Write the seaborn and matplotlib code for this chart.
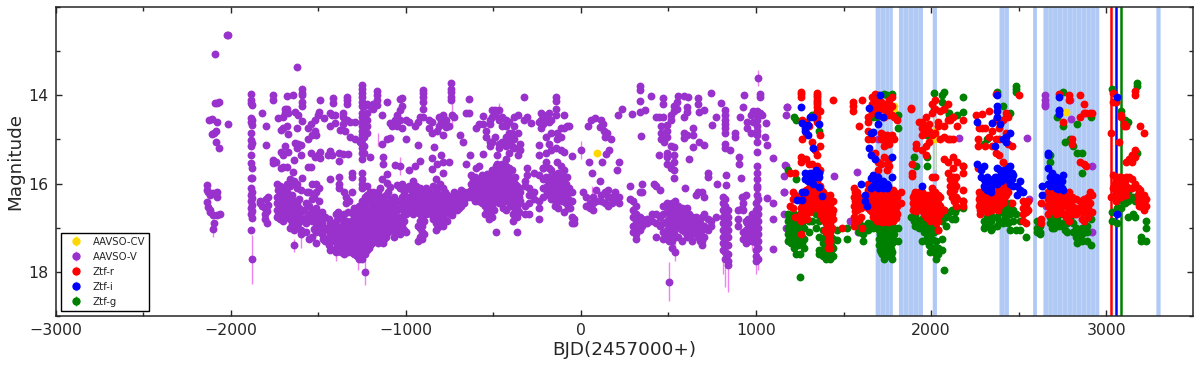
import numpy as np
import pandas as pd
import matplotlib
matplotlib.use('Agg')
import matplotlib.pyplot as plt
from matplotlib.ticker import MultipleLocator
import seaborn as sns

# each row: (BJD-2457000, [magnitudes at that date])
aavso_cv = [(93, [15.3]), (1785, [14.25, 14.35]), (2020, [14.8, 14.9, 15.0]), (2770, [14.38])]

aavso_v_early = [
    (-2023, [12.63]), (-2013, [12.63]), (-2090, [13.06]), (-2090, [14.17]), (-2075, [14.17]), (-2065, [14.16]),
    (-2122, [14.56]), (-2108, [14.54]), (-2075, [14.6]), (-2013, [14.66]), (-2108, [14.87]), (-2095, [14.85]),
    (-2084, [14.8, 15.05]), (-2065, [15.2]), (-2133, [16.04, 16.15, 16.41]), (-2128, [16.2, 16.52]),
    (-2118, [16.25, 16.6, 16.64]), (-2099, [16.22, 16.71]), (-2080, [16.19, 16.31, 16.72]), (-2062, [16.68]),
    (-2095, [16.9]), (-2103, [17.02]),
    (-1883, [13.98, 14.1, 14.18, 14.52, 14.6, 14.85, 15.01, 15.16, 15.35, 15.54, 15.87, 16.1, 16.25, 16.4, 16.55, 16.7, 17.05]),
    (-1876, [14.22, 14.55, 14.67, 15.08, 15.65, 15.87, 16.18, 16.32, 16.48, 16.62, 16.78, 17.72]),
    (-1832, [16.4, 16.45]), (-1820, [14.39, 16.5]), (-1805, [16.55, 16.7, 16.8]), (-1800, [14.69, 15.13, 16.35]),
    (-1790, [16.62, 16.9]), (-1785, [16.3, 16.48]),
]

aavso_v_top_a = [
    (-1756, [14.0, 14.1, 15.47, 15.54]), (-1743, [15.5]), (-1728, [14.52]), (-1710, [14.78, 15.28, 15.65]),
    (-1700, [14.5, 14.75, 15.35, 15.62]), (-1690, [14.3, 14.4, 15.15]), (-1680, [14.02, 14.3, 14.7, 15.62]),
    (-1671, [14.4, 14.88, 15.28]), (-1646, [15.73]), (-1642, [14.0]), (-1638, [15.47]), (-1633, [14.38, 15.09]),
    (-1623, [13.37, 14.73, 15.2]), (-1614, [14.45, 15.1]), (-1600, [15.35, 15.12]), (-1595, [13.85, 13.95, 14.0, 14.15, 14.25]),
    (-1591, [14.58, 15.87]), (-1556, [14.75, 15.0, 15.62]), (-1540, [14.65, 15.62, 15.3]), (-1538, [14.9]),
    (-1520, [14.55, 14.8, 15.4]), (-1510, [14.9]), (-1500, [14.45, 15.35]), (-1494, [14.37]), (-1488, [14.1, 15.28, 15.42]),
    (-1467, [14.52]), (-1442, [15.35]), (-1433, [14.4, 14.7, 15.27, 15.9]), (-1420, [14.45, 15.35]), (-1414, [14.07, 14.18]),
    (-1405, [14.45, 14.63]), (-1380, [15.3, 15.48, 15.84, 16.02, 16.1]), (-1376, [14.78]), (-1357, [14.4, 14.5, 14.65, 15.32]),
    (-1347, [14.82]), (-1338, [14.03, 14.1, 14.2, 14.55]), (-1330, [15.32]), (-1319, [14.6, 14.94]), (-1309, [15.75, 15.85, 16.2]),
    (-1290, [14.6, 15.0]), (-1262, [15.05]),
    (-1252, [13.77, 13.85, 13.95, 14.05, 14.15, 14.25, 14.4, 14.5, 14.6, 14.7, 14.8, 14.9, 15.0, 15.1, 15.2, 15.3, 15.45, 15.77, 15.9, 16.0, 16.1]),
    (-1240, [14.25, 14.45, 14.6, 14.75, 14.95, 15.15, 15.3]), (-1224, [14.2, 14.4, 14.55, 14.7, 14.85, 16.05]),
    (-1205, [14.25, 15.4]), (-1185, [14.2, 14.3, 16.2]), (-1166, [13.9, 14.0, 14.1, 14.22]), (-1138, [14.45, 15.1, 15.9]),
    (-1132, [15.4, 15.55]), (-1110, [14.15, 15.0, 15.98]), (-1106, [15.78]), (-1090, [14.63, 14.97, 16.08]), (-1081, [14.7]),
    (-1062, [15.58, 14.55]), (-1052, [14.45, 14.6, 14.7, 16.03]), (-1033, [14.08, 14.33, 14.55, 15.6]),
]

aavso_v_band_a = [
    (-1735, [16.0, 16.3, 16.45, 16.6, 16.75]), (-1720, [16.05, 16.2, 16.35, 16.5, 16.65, 16.8]),
    (-1700, [16.1, 16.25, 16.4, 16.55, 16.7, 16.85]), (-1680, [16.0, 16.2, 16.35, 16.5, 16.6, 16.75]),
    (-1660, [15.9, 16.05, 16.3, 16.45, 16.6, 16.8, 17.0]), (-1640, [15.95, 16.4, 16.55, 16.7, 16.85, 17.05, 17.4]),
    (-1620, [16.0, 16.1, 16.45, 16.6, 16.75, 16.95]), (-1600, [16.15, 16.65, 16.8, 17.05, 17.15]), (-1580, [16.6, 16.8]),
    (-1565, [16.2, 16.75]), (-1550, [16.2, 16.5, 16.7, 17.25]), (-1535, [16.0, 16.35, 16.6, 16.85, 17.2]),
    (-1510, [16.0, 16.2, 16.55, 16.7, 16.9, 17.1, 17.35]), (-1495, [16.1, 16.4, 16.8, 17.0]), (-1480, [16.65, 16.9, 17.15]),
    (-1460, [16.75, 17.0, 17.3]), (-1440, [16.8, 17.0, 17.2, 17.4]), (-1420, [16.9, 17.1, 17.3]),
    (-1400, [16.7, 16.95, 17.2, 17.45, 17.55]), (-1385, [16.65, 17.0, 17.25]), (-1370, [16.75, 17.05, 17.3, 17.55]),
    (-1355, [16.2, 16.7, 16.9, 17.1, 17.3, 17.6]), (-1340, [16.3, 16.45, 16.85, 17.05, 17.25, 17.45]),
    (-1325, [16.4, 16.95, 17.15, 17.35, 17.5]), (-1310, [16.85, 17.0, 17.2, 17.4, 17.55]),
    (-1295, [16.55, 16.8, 16.95, 17.1, 17.25, 17.4, 17.6]), (-1280, [16.75, 16.9, 17.05, 17.2, 17.35, 17.5, 17.65]),
    (-1265, [16.5, 16.7, 16.85, 17.0, 17.15, 17.3, 17.45, 17.6, 17.7]), (-1250, [16.4, 16.6, 16.8, 16.95, 17.1, 17.25, 17.4, 17.6, 17.72]),
    (-1235, [16.3, 16.45, 16.7, 16.85, 17.0, 17.15, 17.3, 17.45, 17.6, 18.0]), (-1220, [16.25, 16.6, 16.75, 16.9, 17.05, 17.2, 17.35, 17.5]),
    (-1205, [16.2, 16.45, 16.6, 16.8, 16.95, 17.1, 17.25, 17.4]), (-1190, [16.35, 16.55, 16.75, 16.9, 17.05, 17.2, 17.35]),
    (-1175, [16.25, 16.5, 16.65, 16.85, 17.0, 17.15, 17.3]), (-1160, [16.2, 16.4, 16.6, 16.8, 16.95, 17.1, 17.25, 17.35]),
    (-1145, [16.1, 16.35, 16.55, 16.75, 16.9, 17.05, 17.2]), (-1130, [16.3, 16.5, 16.7, 16.85, 17.0, 17.15, 17.35]),
    (-1115, [16.25, 16.45, 16.65, 16.8, 17.0, 17.2]), (-1100, [16.2, 16.5, 16.7, 16.9, 17.1]),
    (-1085, [16.35, 16.6, 16.8, 17.0]), (-1070, [16.3, 16.45, 16.7, 16.9, 17.2]), (-1050, [16.4, 16.6, 16.85, 17.0]),
    (-1035, [16.1, 16.4, 16.55, 16.75, 16.95, 17.15]),
]

aavso_v_top_b = [
    (-1020, [14.07, 14.25, 14.75, 16.0]), (-1000, [14.55, 15.0]), (-980, [14.6, 15.7]), (-950, [14.7, 15.6]), (-930, [14.6, 15.13]),
    (-920, [14.5, 15.48]), (-900, [13.88, 13.95, 14.05, 14.15, 14.3, 14.5]), (-870, [14.55, 14.75]), (-850, [14.6, 14.85, 15.43, 15.66]),
    (-839, [15.17]), (-823, [14.8, 15.55]), (-810, [14.5, 14.7]), (-800, [14.6, 15.36]), (-790, [14.45, 15.77]), (-785, [14.9, 15.5]),
    (-770, [14.55, 14.72]), (-752, [14.7, 15.5]), (-744, [13.73, 13.85, 13.93, 14.05, 14.1]), (-735, [14.45]), (-725, [14.5]),
    (-690, [14.9]), (-673, [15.05]), (-654, [14.4, 15.55]), (-640, [14.08, 14.4]), (-634, [15.35]), (-600, [14.75, 15.65]),
    (-580, [14.65, 15.6]), (-558, [14.48, 14.65, 15.34]), (-540, [14.8, 14.95]), (-520, [14.55, 14.65, 15.05, 15.15]),
    (-506, [14.33, 14.5, 15.05]), (-490, [14.33, 14.45, 14.95]), (-481, [15.35, 15.55]), (-465, [14.33, 14.55, 15.1, 15.2, 15.7]),
    (-450, [14.5, 14.7, 15.05, 15.55, 15.7]), (-430, [14.55, 14.7, 14.95, 15.15, 15.45, 15.6]), (-410, [14.6, 14.85, 15.05, 15.3, 15.65]),
    (-395, [14.85, 15.0, 15.15, 15.7]), (-380, [14.5, 14.7, 15.0, 15.2]), (-360, [14.45, 14.85, 15.35]), (-345, [15.1, 15.25]),
    (-325, [14.03, 14.55]), (-310, [14.5, 15.65, 15.8]), (-285, [14.62]), (-268, [15.77]), (-240, [14.6, 15.13, 15.35, 15.8]),
    (-230, [14.4, 14.55, 14.75]), (-215, [14.45, 14.65, 15.65]), (-198, [14.5, 14.95, 15.3, 15.5, 15.85]), (-180, [14.4, 14.6, 15.1, 15.65]),
    (-173, [14.55, 14.85, 15.25, 15.95]), (-145, [14.03, 14.13, 14.3, 14.45, 15.2]), (-135, [14.85, 15.0, 15.5, 15.95]),
    (-116, [14.75, 14.95, 15.25, 15.6]), (-97, [14.45, 14.75, 15.28, 15.7]), (-80, [14.7, 15.85]), (-68, [14.7, 16.1]), (-49, [15.38, 16.2]),
]

aavso_v_band_b = [
    (-1020, [16.3, 16.55, 16.75, 16.95]), (-1000, [16.1, 16.35, 16.5, 16.7, 17.1]), (-980, [16.05, 16.3, 16.45, 16.65]),
    (-960, [15.95, 16.2, 16.4, 16.55, 16.7]), (-940, [16.05, 16.25, 16.4, 16.6]), (-920, [16.1, 16.3, 16.5, 16.7, 16.85, 17.0, 17.2]),
    (-905, [16.15, 16.35, 16.55, 16.75, 16.95, 17.1, 17.25]), (-885, [16.1, 16.35, 16.55, 16.7]), (-865, [16.2, 16.4, 16.6]),
    (-845, [16.05, 16.25, 16.4, 16.6, 16.8]), (-825, [15.9, 16.15, 16.35, 16.55, 16.7, 16.9, 17.05]), (-805, [16.0, 16.25, 16.45, 16.65, 16.85]),
    (-785, [16.1, 16.35, 16.55, 16.75, 16.95]), (-765, [16.25, 16.45, 16.65, 16.85]), (-745, [16.3, 16.5, 16.7]),
    (-725, [16.2, 16.45, 16.6]), (-705, [16.3, 16.45, 16.6]), (-685, [16.15, 16.3, 16.5]), (-665, [16.2, 16.35, 16.45]),
    (-645, [16.2, 16.3]), (-625, [15.8, 16.0, 16.15, 16.3]), (-605, [15.85, 16.0, 16.15, 16.3, 16.4]), (-585, [15.95, 16.1, 16.25, 16.4]),
    (-565, [15.8, 16.0, 16.15, 16.3, 16.45]), (-545, [15.9, 16.05, 16.2, 16.35, 16.5, 16.7]), (-525, [15.85, 16.0, 16.15, 16.35, 16.55, 16.65, 16.8]),
    (-505, [15.7, 15.85, 16.0, 16.15, 16.3, 16.5, 16.75]), (-485, [15.6, 15.8, 15.95, 16.1, 16.25, 16.4, 17.1]), (-465, [15.9, 16.0, 16.15, 16.3, 16.45]),
    (-445, [15.75, 15.9, 16.05, 16.2, 16.35, 16.55]), (-425, [15.8, 15.95, 16.1, 16.25, 16.4, 16.6]), (-405, [15.85, 16.0, 16.15, 16.3, 16.5]),
    (-385, [15.95, 16.1, 16.25, 16.45, 16.7, 16.85]), (-365, [16.05, 16.2, 16.35, 16.55, 16.75, 17.1]), (-345, [16.2, 16.4]),
    (-320, [15.95, 16.05, 16.5, 16.7]), (-295, [16.1, 16.25, 16.45, 16.7]), (-265, [16.2, 16.35]), (-240, [16.4, 16.55, 16.8]),
    (-215, [15.65, 15.9, 16.1, 16.3]), (-195, [15.9, 16.05, 16.2]), (-170, [15.7, 15.95, 16.15, 16.35]), (-150, [15.8, 16.0, 16.25, 16.5]),
    (-130, [15.75, 15.95, 16.15, 16.35, 16.55]), (-110, [16.0, 16.2, 16.4]), (-95, [15.85, 16.1, 16.3, 16.65]), (-75, [16.15, 16.35, 16.55]),
    (-50, [16.4, 16.75, 16.9]), (-40, [16.8, 16.9]),
]

aavso_v_top_c = [
    (0, [15.24]), (13, [16.18]), (42, [14.7]), (45, [15.5]), (55, [14.55]), (65, [15.75]), (80, [14.52]), (107, [15.95]),
    (110, [14.72]), (112, [14.55]), (122, [15.5]), (125, [14.65]), (130, [14.8]), (135, [14.95]), (146, [15.32]), (150, [14.85]),
    (160, [15.24]), (170, [15.0]), (207, [15.7]), (213, [14.45]), (217, [15.52]), (236, [14.3]), (289, [14.42]), (337, [13.78, 13.87]),
    (335, [14.13, 14.37]), (344, [14.92]), (365, [14.33]), (401, [14.02]), (426, [14.5]), (445, [15.35, 14.5]), (455, [14.7, 14.85, 15.0]),
    (470, [14.07, 14.2, 14.5]), (474, [15.05]), (493, [14.67, 14.8, 14.95, 15.3, 15.4, 15.55]), (512, [14.45, 14.55, 15.15, 15.65]),
    (531, [14.25, 14.35, 15.17, 15.35, 15.5, 15.7, 15.88]), (550, [14.15, 14.3]), (554, [14.02]), (588, [14.02, 14.5, 14.85, 14.97]),
    (607, [14.27, 14.37, 14.9]), (611, [14.03]), (617, [15.45]), (641, [14.75, 14.9, 15.17]), (668, [14.07, 14.2]), (674, [14.37, 15.05]),
    (703, [14.33, 15.13]), (725, [15.75, 15.85]), (740, [13.94]), (750, [14.68]), (769, [14.5]), (775, [16.0]), (801, [14.18]),
    (820, [14.33, 14.45, 14.55, 14.65, 14.75, 14.85, 15.1, 15.2]), (826, [15.8, 16.03]), (851, [15.25]), (880, [14.85, 14.95]),
    (902, [15.4, 15.55]), (911, [14.5]), (912, [15.87]), (925, [14.27]), (930, [14.0]), (950, [14.6, 14.75]), (970, [14.45, 14.85]),
    (985, [14.35, 14.6]), (1003, [14.35, 14.45, 14.55, 14.7, 14.8, 14.9, 15.05, 15.28, 15.77, 15.9, 16.05]), (1012, [13.6]), (1020, [13.97, 14.05, 14.4]),
    (1035, [14.45]), (1054, [14.95]), (1055, [14.63]), (1064, [15.13]), (1098, [15.43, 16.43, 16.8, 17.48]), (1060, [16.32]),
    (1159, [16.18]), (1172, [15.6]), (1178, [14.27]),
]

aavso_v_band_c = [
    (30, [16.3, 16.5]), (50, [16.45, 16.55]), (70, [16.3, 16.45, 16.6]), (85, [16.15, 16.4]), (115, [16.25, 16.4]), (135, [16.2, 16.45]),
    (155, [16.15, 16.3, 16.5]), (175, [16.3, 16.45]), (195, [16.2, 16.35]), (215, [16.3, 16.45]), (280, [16.05, 16.35]),
    (300, [16.4, 16.6, 16.75, 16.95, 17.1]), (315, [16.5, 16.7, 16.85, 17.0, 17.15, 17.25]), (335, [16.2, 16.75, 16.85, 17.05]),
    (350, [16.0, 16.2, 16.8, 16.95]), (375, [16.8, 16.9]), (405, [16.7, 16.85]), (415, [16.0]), (430, [16.05, 16.7, 16.9, 17.2]), (450, [16.15, 16.75, 16.95]),
    (470, [16.5, 16.7, 16.9, 17.1, 17.25]), (490, [16.45, 16.65, 16.85, 17.05, 17.2]), (505, [16.5, 16.65, 16.8, 16.95, 17.15, 17.3, 18.22]),
    (520, [16.45, 16.6, 16.8, 17.0, 17.3, 17.45]), (540, [16.4, 16.6, 16.8, 17.0, 17.2, 17.55]), (555, [16.5, 16.7, 16.9, 17.2]),
    (575, [16.55, 16.7, 16.85, 17.05, 17.3]), (595, [16.1, 16.6, 16.75, 16.95, 17.1]), (615, [16.7, 16.85, 17.05]), (635, [16.75, 16.95, 17.15, 17.3]),
    (655, [16.25, 16.75, 16.9, 17.1]), (670, [16.2, 16.8, 17.0, 17.2]), (690, [16.2, 16.75, 17.05, 17.3, 17.4]), (705, [16.3, 16.7, 16.95, 17.2]),
    (725, [16.8, 17.05]), (745, [16.85, 16.95]), (770, [16.75]),
    (810, [16.3, 16.45, 16.6, 16.75, 16.9, 17.05, 17.2, 17.35, 17.5]), (825, [16.35, 16.5, 16.65, 16.8, 16.95, 17.1, 17.25, 17.4, 17.55, 17.7]),
    (838, [16.6, 16.75, 16.9, 17.05, 17.2, 17.4, 17.6, 17.75, 17.85]), (895, [16.6, 16.8, 16.95]), (925, [16.3, 16.45, 16.6, 17.1, 17.25]),
    (940, [16.25, 16.85, 17.05, 17.2, 17.35]), (955, [16.8, 17.0, 17.15, 17.3]), (975, [16.7, 16.9, 17.05, 17.3]), (985, [16.8, 17.0, 17.2]),
    (1000, [16.45, 16.6, 16.75, 16.9, 17.05, 17.2, 17.35, 17.5, 17.65, 17.75]), (1012, [16.35, 16.55, 16.7, 16.85, 17.0, 17.15, 17.3, 17.45, 17.7]),
]

# points between the columns above, where the band looks denser
aavso_v_fill = [
    (-1728, [16.15, 16.42, 16.72]), (-1690, [16.18, 16.32, 16.62, 16.78]), (-1650, [16.25, 16.52, 16.72, 16.92]), (-1610, [16.35, 16.55, 16.88]),
    (-1570, [16.45, 16.9, 17.1]), (-1522, [16.3, 16.62, 16.8, 17.02]), (-1470, [16.75, 17.08, 17.25]), (-1430, [16.9, 17.12, 17.3, 17.5]),
    (-1392, [16.82, 17.1, 17.35]), (-1362, [16.95, 17.18, 17.42]), (-1332, [16.65, 17.0, 17.28, 17.55]), (-1302, [16.7, 17.05, 17.32, 17.5]),
    (-1272, [16.6, 16.8, 17.12, 17.42]), (-1242, [16.52, 16.72, 17.02, 17.32, 17.52]), (-1212, [16.42, 16.68, 17.0, 17.28, 17.45]),
    (-1182, [16.45, 16.82, 17.1, 17.28]), (-1152, [16.3, 16.72, 17.02, 17.3]), (-1122, [16.4, 16.6, 16.95, 17.25]), (-1092, [16.45, 16.75, 16.95]),
    (-1060, [16.55, 16.75, 17.1]), (-1010, [16.2, 16.45, 16.65, 16.85, 17.05]), (-970, [16.15, 16.38, 16.58]), (-930, [16.18, 16.45, 16.65, 16.95, 17.3]),
    (-895, [16.25, 16.45, 16.65, 16.85, 17.15]), (-855, [16.3, 16.5, 16.7]), (-815, [16.1, 16.3, 16.5, 16.78, 16.98]), (-775, [16.2, 16.42, 16.62, 16.82]),
    (-735, [16.38, 16.55, 16.72]), (-695, [16.25, 16.4, 16.55]), (-615, [15.9, 16.08, 16.25]), (-575, [15.9, 16.05, 16.18, 16.35]),
    (-535, [15.78, 15.95, 16.1, 16.28, 16.45, 16.6]), (-495, [15.9, 16.08, 16.22, 16.38, 16.6]), (-455, [15.82, 15.98, 16.12, 16.28, 16.42]),
    (-415, [15.72, 15.9, 16.08, 16.22, 16.38]), (-375, [15.85, 16.02, 16.18, 16.32, 16.6]), (-355, [16.1, 16.3, 16.45, 16.65]),
    (-180, [15.85, 16.05, 16.25]), (-140, [16.1, 16.3, 16.45]), (-120, [15.85, 16.1, 16.3]), (-85, [16.0, 16.25, 16.45]), (-60, [16.2, 16.4, 16.55]),
    (510, [16.7, 16.9, 17.1, 17.2]), (530, [16.5, 16.7, 16.9, 17.1]), (565, [16.6, 16.8, 17.0]), (605, [16.55, 16.8, 17.0, 17.2]),
    (645, [16.85, 17.05]), (680, [16.9, 17.1, 17.3]), (1005, [15.6, 16.1, 16.25]), (950, [16.9, 17.1]), (918, [16.3, 16.55]),
]

# violet points inside the ZTF seasons
aavso_v_late = [
    (1176, [14.27]), (1172, [14.45]), (1166, [15.58]), (1157, [15.82, 16.2, 16.7]), (1170, [17.0]), (1446, [15.82]), (1538, [16.85]), (1576, [15.73]),
    (1585, [17.1]), (1696, [15.0]), (2160, [14.97]), (2550, [14.97]), (2556, [16.35]), (2651, [14.0, 14.1, 14.2, 14.25]), (2656, [16.5]),
    (2793, [14.1]), (2800, [14.53]), (2921, [15.6, 17.1]),
]

ztf_g = [
    (1180, [15.7, 16.7, 16.85, 17.0, 17.15, 17.3]), (1200, [16.75, 16.9, 17.05, 17.2, 17.35]), (1215, [14.5, 16.7, 16.95, 17.25, 17.45]),
    (1230, [14.55, 15.9, 16.9, 17.1, 17.3, 17.6]), (1250, [16.7, 16.9, 17.1, 17.3, 17.6, 18.12]), (1275, [16.8, 17.0, 17.25, 17.45]), (1300, [16.6, 16.85, 17.1]),
    (1320, [14.45, 16.6, 16.85]), (1340, [14.5, 16.45, 16.7, 17.0]), (1360, [14.8, 16.5, 16.85, 17.2, 17.5, 17.6]), (1385, [17.05, 17.35, 17.5, 17.65]),
    (1400, [16.9, 17.2, 17.4, 17.6, 17.7]), (1420, [16.95, 17.3, 17.55, 17.7]), (1440, [17.25, 17.45, 17.65]), (1465, [17.28, 17.05]),
    (1520, [17.0, 17.25]), (1590, [16.85, 17.0, 17.1]), (1610, [16.95, 17.15, 17.3]), (1640, [16.9, 17.05]), (1665, [14.5, 17.0, 16.9]),
    (1690, [14.5, 16.85, 17.0]), (1710, [17.0, 17.15, 17.35, 17.5]), (1720, [15.0, 16.95, 17.1, 17.25, 17.45, 17.6]), (1730, [13.98, 16.95, 17.1, 17.3, 17.5, 17.7]),
    (1745, [14.0, 15.1, 17.0, 17.15, 17.35, 17.55, 17.65]), (1760, [14.3, 16.95, 17.1, 17.25, 17.4, 17.55]), (1775, [13.98, 16.9, 17.05, 17.2, 17.35, 17.55, 17.7]),
    (1790, [17.0, 17.15, 17.3]), (1810, [14.45, 14.75, 17.0, 17.3]),
    (1885, [16.75]), (1900, [15.4, 16.75, 16.85]), (1915, [15.6, 16.8, 16.9]), (1930, [16.85, 17.0]), (1950, [16.8, 17.0, 17.3]),
    (1975, [14.8, 14.9, 15.4, 15.6, 16.9, 17.2, 17.3]), (1995, [17.0, 17.15, 17.3, 17.55]), (2015, [13.95, 14.3, 16.85, 17.1, 17.45]), (2030, [17.0, 17.3, 17.6, 17.7]),
    (2060, [14.0, 14.15, 16.85, 17.25, 17.5]), (2075, [13.93, 14.3, 16.6, 17.95]), (2100, [14.4, 14.45, 16.65]), (2120, [16.6, 16.8]), (2150, [14.45, 16.55]),
    (2180, [14.05, 14.37, 15.6, 16.4, 16.55]),
    (2300, [15.1, 16.85, 17.0]), (2320, [15.0, 16.75, 16.9]), (2340, [16.85, 17.05]), (2375, [13.92, 16.75, 16.95]), (2410, [14.25, 16.65, 16.9]), (2430, [14.5, 16.55, 16.8]),
    (2450, [14.4, 16.45, 16.7, 17.05]), (2485, [13.78, 13.85, 13.93, 16.7, 17.05]), (2505, [16.85, 17.05]), (2540, [17.2]),
    (2605, [16.85, 17.0, 17.1]), (2620, [16.95, 17.1, 17.15]), (2680, [15.35, 15.5, 16.75, 16.9]), (2700, [16.6, 16.85, 17.0]), (2720, [14.5, 16.55, 16.8, 16.9]),
    (2750, [13.93, 14.7, 16.9, 16.95]), (2765, [15.05, 16.7, 17.05]), (2790, [15.0, 16.8]), (2810, [15.15, 16.9, 17.1]), (2835, [14.65, 15.3, 17.2, 17.35]),
    (2860, [15.3, 15.75, 17.0, 17.15, 17.3]), (2890, [16.95, 17.1, 17.3]), (2915, [14.5, 17.4, 16.8]),
    (3035, [13.85, 16.65, 16.85]), (3060, [16.4, 16.55, 16.9]), (3085, [14.35, 16.3, 16.55]), (3105, [14.55, 16.25, 16.45]), (3125, [14.6, 16.2, 16.4, 16.75]),
    (3150, [16.3, 16.7]), (3165, [15.35, 16.4, 16.75]), (3178, [13.72, 13.8, 15.3]), (3200, [16.4, 17.2, 17.3]), (3225, [16.85, 17.0, 17.3]),
]

ztf_g_fill = [
    (1190, [16.8, 17.1, 17.25]), (1240, [16.85, 17.0, 17.2, 17.4]), (1262, [16.9, 17.2, 17.35]), (1392, [17.2, 17.45, 17.62]), (1410, [17.1, 17.3, 17.5, 17.65]),
    (1430, [17.2, 17.4, 17.6]), (1702, [17.05, 17.25, 17.4]), (1715, [17.05, 17.2, 17.35, 17.55]), (1725, [17.05, 17.2, 17.38, 17.58]), (1738, [17.05, 17.22, 17.42, 17.6]),
    (1752, [17.05, 17.22, 17.45, 17.62]), (1768, [17.02, 17.18, 17.32, 17.48, 17.62]), (1782, [17.0, 17.15, 17.3]), (1910, [16.7, 16.95]), (1960, [16.85, 17.1]),
    (1985, [16.95, 17.1, 17.4]), (2005, [17.05, 17.25]), (2040, [17.05, 17.45, 17.6]), (2085, [16.75, 16.95]), (2135, [16.65, 16.8]),
    (2310, [16.95, 16.85]), (2350, [16.75, 17.0]), (2385, [16.65, 16.85]), (2420, [16.6, 16.75]), (2440, [16.55, 16.7, 16.9]), (2470, [16.6, 16.85]),
    (2690, [16.8, 17.0]), (2730, [16.7, 16.95]), (2775, [16.9, 17.1]), (2825, [17.0, 17.2]), (2850, [17.1, 17.25]),
]

ztf_r = [
    (1195, [15.75, 16.5]), (1210, [16.2, 16.35, 16.55]), (1225, [15.75, 16.25, 16.75]), (1254, [13.93, 13.98, 14.03, 15.4, 15.5, 16.55, 16.7, 16.85, 17.15]),
    (1260, [14.55, 15.0, 16.3, 16.5, 16.65, 16.8]), (1285, [14.6, 14.85, 15.45, 16.15, 16.3, 16.5, 16.7]), (1300, [14.7, 15.55, 16.1, 16.25, 16.4, 16.55]),
    (1320, [15.05, 15.55, 15.75, 16.05, 16.2, 16.35, 16.5]), (1335, [15.25, 15.9, 16.0, 16.2, 16.35, 16.5]),
    (1350, [13.95, 14.0, 14.05, 14.1, 14.15, 14.2, 14.27, 14.35, 14.4, 14.5, 14.6, 15.35, 15.6, 15.95, 16.1, 16.3, 16.45]),
    (1365, [14.35, 14.9, 15.15, 15.7, 16.05, 16.25, 16.6]), (1380, [16.2, 16.4, 16.6, 16.8]), (1395, [16.25, 16.45, 16.65, 16.85, 17.05]),
    (1410, [16.3, 16.55, 16.75, 16.95, 17.15, 17.3, 17.45]), (1442, [14.1, 16.4, 16.6, 16.8]), (1425, [16.25, 16.5, 16.7, 16.9, 17.1, 17.3, 17.45]), (1435, [16.7, 17.0]),
    (1490, [17.0]), (1555, [14.15, 14.25, 14.35]), (1560, [16.1, 16.3, 16.5, 16.75, 16.95]), (1575, [16.2, 16.4, 16.6, 16.85]), (1590, [14.7, 16.3, 16.5, 16.8]),
    (1600, [16.35, 16.55, 16.75]), (1605, [14.1, 16.5, 17.0]), (1640, [14.5, 14.6, 14.8, 15.0, 16.0, 16.15, 16.35, 16.55]),
    (1660, [14.05, 14.2, 14.4, 15.0, 16.2, 16.35, 16.5, 16.65]), (1680, [13.97, 14.1, 14.3, 15.3, 16.25, 16.45, 16.6, 16.75]),
    (1695, [14.0, 14.2, 15.5, 15.7, 16.1, 16.3, 16.5, 16.7]), (1715, [14.15, 14.3, 14.85, 15.0, 15.55, 16.15, 16.3, 16.5, 16.7]),
    (1730, [14.3, 14.5, 14.9, 15.15, 15.4, 16.2, 16.4, 16.6, 16.8]), (1745, [14.2, 14.35, 14.9, 15.05, 15.55, 15.7, 16.2, 16.4, 16.6, 16.8]),
    (1760, [14.1, 14.3, 14.45, 14.95, 15.1, 15.45, 15.6, 16.15, 16.35, 16.55, 16.75]), (1775, [14.05, 14.25, 14.45, 14.9, 16.25, 16.45, 16.65]),
    (1790, [14.5, 15.0, 16.2, 16.4, 16.6, 16.8]), (1805, [14.55, 16.3, 16.5, 16.7]), (1830, [16.2, 16.45]), (1885, [14.3, 14.28]),
    (1895, [16.3, 16.45, 16.6]), (1890, [15.55, 15.83, 15.75]), (1905, [16.2, 16.4, 16.55]), (1915, [15.1, 15.2]), (1930, [14.6, 16.2, 16.35, 16.55]),
    (1950, [14.6, 14.75, 14.9, 15.25, 16.2, 16.4, 16.6]), (1970, [14.5, 14.7, 14.85, 15.15, 15.35, 16.25, 16.4, 16.6, 16.75]),
    (1985, [14.65, 14.8, 15.05, 16.25, 16.45, 16.65, 16.8]), (2005, [14.2, 14.4, 14.9, 15.85, 16.1, 16.3, 16.45, 16.65]),
    (2020, [14.1, 14.3, 14.85, 15.85, 16.2, 16.4, 16.6, 16.8]), (2040, [14.6, 14.7, 16.25, 16.45, 16.65, 16.85, 17.05]), (2050, [14.35, 15.0, 16.3, 16.5, 16.7]),
    (2075, [14.3, 14.7, 15.45, 14.95, 16.6]), (2095, [14.2, 14.55, 15.0, 15.5, 15.75]), (2110, [14.55, 15.0, 15.9, 16.05, 16.2]), (2125, [14.5, 15.0, 15.4, 15.65, 15.85, 16.1]),
    (2140, [15.85, 16.05, 16.3, 16.5]), (2150, [14.7, 15.5, 16.35]), (2180, [14.55, 15.6, 15.75, 16.15, 16.4, 16.5]),
    (2255, [14.45]), (2265, [15.65, 15.0, 15.15]), (2275, [14.75, 16.2, 16.35, 16.5]), (2290, [14.42, 14.75, 16.2, 16.35, 16.55]), (2310, [14.75, 15.15, 16.25, 16.45, 16.55]),
    (2330, [14.35, 14.95, 16.3, 16.5, 16.6]), (2350, [14.8, 15.15, 16.25, 16.45, 16.6]), (2370, [13.98, 14.55, 15.0, 15.3, 16.2, 16.4, 16.55]),
    (2390, [14.75, 15.0, 15.35, 16.15, 16.35, 16.5]), (2410, [14.55, 15.5, 16.1, 16.3, 16.45]), (2425, [14.4, 14.85, 15.6, 16.05, 16.25]), (2440, [14.5, 15.1, 16.05, 16.2]),
    (2460, [15.15, 16.45]), (2500, [14.0]), (2525, [16.4, 16.55, 16.7, 16.85]), (2540, [16.5, 16.65, 16.9]), (2555, [16.4, 16.6]),
    (2625, [16.45, 16.8, 16.9]), (2665, [16.2, 16.35, 16.5, 16.7]), (2690, [16.1, 16.3, 16.45, 16.6]), (2710, [16.15, 16.35, 16.55, 16.7]), (2730, [13.97, 14.35, 16.2, 16.4, 16.6]),
    (2750, [14.6, 16.25, 16.45, 16.7]), (2770, [16.3, 16.5, 16.75]), (2785, [14.0, 14.1, 16.2, 16.4, 16.6, 16.85]), (2805, [15.1, 15.0, 16.3, 16.5, 16.65]),
    (2825, [16.35, 16.55, 16.7]), (2850, [14.0, 14.5, 15.5, 16.4, 16.55]), (2870, [14.2, 14.4, 15.55, 16.35, 16.6, 16.85]), (2885, [14.4, 15.6, 16.45, 16.65]),
    (2905, [14.4, 16.45, 16.65, 16.2]), (2920, [14.4, 16.25, 16.65]),
    (3025, [14.85, 16.3]), (3040, [13.95, 14.15, 15.8, 16.1]), (3055, [14.15, 15.95, 16.15, 16.4]), (3070, [15.05, 15.85, 16.05, 16.3]), (3085, [14.45, 14.5, 15.85, 16.1, 16.3]),
    (3100, [14.65, 14.7, 15.9, 16.15]), (3115, [14.7, 15.5, 15.85, 16.05, 16.25]), (3130, [15.45, 15.85, 16.1]), (3145, [15.35, 15.5, 15.9, 16.1]), (3165, [13.9, 14.0, 15.25, 15.4, 16.0]),
    (3180, [16.1, 16.25, 16.4]), (3190, [14.7, 16.15, 16.35, 16.5]), (3215, [14.85, 16.25, 16.4, 16.6]), (3225, [16.35, 16.5]),
]

ztf_r_fill = [
    (1270, [16.2, 16.42, 16.6, 16.78]), (1292, [16.25, 16.45, 16.62, 16.8]), (1310, [16.15, 16.32, 16.48, 16.65]), (1345, [16.0, 16.18, 16.38, 16.55]),
    (1372, [16.15, 16.35, 16.5, 16.72]), (1402, [16.3, 16.5, 16.7, 16.9, 17.1]), (1418, [16.4, 16.62, 16.82, 17.02, 17.2]), (1565, [16.2, 16.4, 16.62, 16.85]),
    (1650, [16.1, 16.25, 16.42, 16.6]), (1670, [16.15, 16.3, 16.48, 16.62, 16.75]), (1688, [16.2, 16.38, 16.55, 16.72, 16.85]), (1703, [16.2, 16.38, 16.58, 16.78]),
    (1722, [16.1, 16.25, 16.42, 16.6, 16.78, 16.88]), (1738, [16.15, 16.32, 16.5, 16.68, 16.85]), (1752, [16.12, 16.3, 16.5, 16.7, 16.88]),
    (1768, [16.2, 16.4, 16.58, 16.8]), (1782, [16.15, 16.32, 16.52, 16.72, 16.85]), (1798, [16.3, 16.48, 16.65, 16.78]), (1900, [16.25, 16.38, 16.52]),
    (1912, [16.3, 16.48, 16.62]), (1940, [16.25, 16.45, 16.6]), (1960, [16.3, 16.5, 16.68]), (1978, [16.3, 16.5, 16.7]), (1995, [16.3, 16.5, 16.7, 16.85]),
    (2012, [16.2, 16.38, 16.55, 16.72]), (2030, [16.3, 16.5, 16.7, 16.9]), (2118, [15.95, 16.12, 16.3]), (2132, [15.95, 16.15, 16.4]),
    (2280, [16.28, 16.45, 16.6, 16.7]), (2300, [16.25, 16.42, 16.58]), (2320, [16.35, 16.52, 16.65]), (2340, [16.35, 16.55]), (2360, [16.3, 16.5]),
    (2380, [16.25, 16.45, 16.6]), (2400, [16.2, 16.4]), (2418, [16.15, 16.35]), (2680, [16.2, 16.4, 16.55]), (2700, [16.2, 16.38, 16.55]), (2720, [16.25, 16.45, 16.6]),
    (2740, [16.3, 16.5, 16.65]), (2795, [16.3, 16.5, 16.7]), (2815, [16.35, 16.55, 16.7]), (2860, [16.45, 16.65, 16.8]), (2895, [16.3, 16.55, 16.75]),
    (3050, [16.0, 16.25]), (3078, [15.95, 16.15]), (3092, [15.95, 16.2]), (3108, [15.95, 16.15]), (3185, [16.2, 16.35, 16.5]), (3205, [16.3, 16.5]),
]

ztf_i = [
    (1255, [14.27]), (1260, [14.62]), (1235, [16.38]), (1265, [16.2, 16.38]), (1280, [14.73, 14.82, 16.2, 15.75, 15.9]), (1295, [14.67, 14.9, 15.8, 15.95]),
    (1310, [14.5, 15.75, 15.9]), (1325, [14.5, 15.2, 16.0, 15.8]), (1340, [15.7, 15.85]), (1360, [14.65, 15.75, 15.85, 16.07]), (1375, [16.28]),
    (1600, [16.0]), (1620, [16.27, 16.4]), (1635, [16.5]), (1645, [14.28, 15.2]), (1655, [14.85, 15.35, 15.87, 16.1]), (1665, [14.83, 15.8, 16.05]),
    (1680, [15.45, 15.9, 16.05, 16.0]), (1695, [14.45, 14.65, 15.85, 16.1]), (1710, [14.0, 15.95, 16.05]), (1725, [14.5, 16.1, 15.95]), (1745, [16.0, 16.1]),
    (1775, [15.4, 15.85]), (1755, [16.05]),
    (1950, [16.05]), (2260, [14.6, 15.55]), (2285, [15.85, 15.7]), (2300, [15.9, 16.05, 15.6]), (2320, [15.85, 16.05, 16.15]), (2340, [15.95, 16.1, 16.2]),
    (2350, [14.63]), (2365, [15.15, 15.85, 16.0]), (2375, [14.0, 14.25, 14.35, 14.5, 15.65, 15.85, 16.0]), (2395, [14.65, 15.7, 15.9]), (2410, [15.0, 15.85, 15.75]),
    (2430, [15.05, 14.95, 15.75, 15.9]), (2450, [14.85, 15.8, 15.6, 16.0]), (2470, [15.8, 16.05]), (2490, [16.05, 16.25]), (2510, [15.95, 16.15]), (2525, [16.2]),
    (2630, [16.25, 16.05]), (2665, [15.35, 15.3, 15.65, 16.0]), (2690, [15.75, 16.0, 15.9]), (2715, [15.85, 16.05, 16.1]), (2730, [14.05, 14.33, 14.42, 15.9, 16.05]),
    (2745, [15.95, 16.1]), (2755, [16.15, 15.8]), (3060, [16.7, 14.03]),
    (2310, [15.95, 16.1]), (2330, [15.9, 16.0]), (2400, [15.8, 15.95]), (2420, [15.7, 15.85]), (2440, [15.65, 15.85]), (2460, [15.75, 15.9]),
    (2680, [15.85, 16.05]), (2700, [15.85, 16.05]), (2722, [15.95, 16.12]), (2738, [15.9, 16.1]), (1690, [15.95, 16.05]), (1735, [16.0]),
]

# points in violet with the long error bars that are visible: (date, magnitude, error)
aavso_v_err = [
    (-1880, 17.72, 0.55), (-2103, 17.02, 0.2), (-1640, 17.4, 0.15), (-1235, 18.0, 0.3), (-1600, 17.15, 0.3), (-1400, 17.55, 0.2), (-1270, 17.7, 0.25),
    (505, 18.22, 0.45), (1012, 13.6, 0.18), (810, 17.5, 0.55), (825, 17.7, 0.65), (838, 17.85, 0.6), (1000, 17.75, 0.3), (1012, 17.7, 0.25),
    (305, 17.1, 0.2), (540, 17.55, 0.2), (975, 17.3, 0.2), (-1033, 15.6, 0.2), (-1160, 15.0, 0.15), (-465, 14.33, 0.15), (0, 15.24, 0.2), (65, 16.3, 0.25), (-735, 14.45, 0.3),
]
aavso_cv_err = [(2020, 15.1, 0.6)]

# TESS sector windows, start and end
span_start = [1683, 1710, 1738, 1764, 1816, 1842, 1870, 1898, 1926, 2009, 2390, 2417, 2582,
              2641, 2668, 2696, 2724, 2751, 2778, 2805, 2832, 2859, 2886, 2913, 2941, 3286]
span_end = [1709, 1737, 1763, 1781, 1841, 1869, 1897, 1925, 1953, 2033, 2416, 2444, 2604,
            2667, 2695, 2723, 2750, 2777, 2804, 2831, 2858, 2885, 2912, 2940, 2960, 3310]
line_x = [3024, 3056, 3083]
line_colors = ['red', 'blue', 'green']

yticks_major = [14, 16, 18]


def to_frame(*groups):
    rows = [(x, y) for group in groups for x, ys in group for y in ys]
    return pd.DataFrame(rows, columns=['bjd', 'mag'])


sns.set_style('ticks')
plt.rcParams['font.family'] = 'DejaVu Sans'
plt.rcParams['xtick.direction'] = 'in'
plt.rcParams['ytick.direction'] = 'in'

fig = plt.figure(figsize=(12, 3.67), dpi=100)
ax = fig.add_axes([55.5 / 1200, 1 - 316 / 367, (1193 - 55.5) / 1200, 309 / 367])

for s, e in zip(span_start, span_end):
    ax.axvspan(s, e, color='cornflowerblue', alpha=0.5, lw=0, zorder=1, snap=False)
for x, c in zip(line_x, line_colors):
    ax.axvline(x, color=c, lw=1.8, zorder=2)

df_v = to_frame(aavso_v_early, aavso_v_top_a, aavso_v_band_a, aavso_v_top_b, aavso_v_band_b, aavso_v_top_c, aavso_v_band_c,
                aavso_v_fill, aavso_v_late)
df_cv = to_frame(aavso_cv)
df_g = to_frame(ztf_g, ztf_g_fill)
df_r = to_frame(ztf_r, ztf_r_fill)
df_i = to_frame(ztf_i)

err = np.array(aavso_v_err)
ax.errorbar(err[:, 0], err[:, 1], yerr=err[:, 2], fmt='none', ecolor='violet', elinewidth=1, zorder=3)
err = np.array(aavso_cv_err)
ax.errorbar(err[:, 0], err[:, 1], yerr=err[:, 2], fmt='none', ecolor='yellow', elinewidth=1, zorder=3)

size = 32
sns.scatterplot(data=df_v, x='bjd', y='mag', color='darkorchid', s=size, linewidth=0, ax=ax, zorder=4, legend=False)
sns.scatterplot(data=df_cv, x='bjd', y='mag', color='gold', s=size, linewidth=0, ax=ax, zorder=5, legend=False)
sns.scatterplot(data=df_g, x='bjd', y='mag', color='green', s=size, linewidth=0, ax=ax, zorder=6, legend=False)
sns.scatterplot(data=df_r, x='bjd', y='mag', color='red', s=size, linewidth=0, ax=ax, zorder=7, legend=False)
sns.scatterplot(data=df_i, x='bjd', y='mag', color='blue', s=size, linewidth=0, ax=ax, zorder=8, legend=False)

# legend keys carry a small error bar like the data
handles = []
for c, ec, lab in [('gold', 'yellow', 'AAVSO-CV'), ('darkorchid', 'violet', 'AAVSO-V'), ('red', 'pink', 'Ztf-r'),
                   ('blue', 'lightblue', 'Ztf-i'), ('green', 'limegreen', 'Ztf-g')]:
    h = ax.errorbar([], [], yerr=[], fmt='o', color=c, ecolor=ec, ms=6, mew=0, elinewidth=1, label=lab)
    handles.append(h)
leg = ax.legend(handles=handles, loc='lower left', bbox_to_anchor=(5 / 1137.5, 5 / 309), borderaxespad=0, fontsize=7.3,
                numpoints=1, fancybox=False, framealpha=1, edgecolor='black', labelspacing=0.5,
                handlelength=2.2, handletextpad=0.55, borderpad=0.4)
leg.get_frame().set_linewidth(1)
leg.set_zorder(20)

ax.set_xlim(-3000, 3495)
ax.set_ylim(19, 12)
ax.xaxis.set_major_locator(MultipleLocator(1000))
ax.xaxis.set_minor_locator(MultipleLocator(500))
ax.set_yticks(yticks_major)
ax.yaxis.set_minor_locator(MultipleLocator(1))
ax.tick_params(which='both', top=True, right=True, direction='in', width=1, labelsize=11.3, zorder=30)
ax.tick_params(which='major', length=4, pad=5)
ax.tick_params(which='minor', length=3)
ax.set_xlabel('BJD(2457000+)', fontsize=13.2, labelpad=2)
ax.set_ylabel('Magnitude', fontsize=13.2, labelpad=3)
for sp in ax.spines.values():
    sp.set_linewidth(1.1)
    sp.set_zorder(30)

plt.savefig('out.png', dpi=100)
